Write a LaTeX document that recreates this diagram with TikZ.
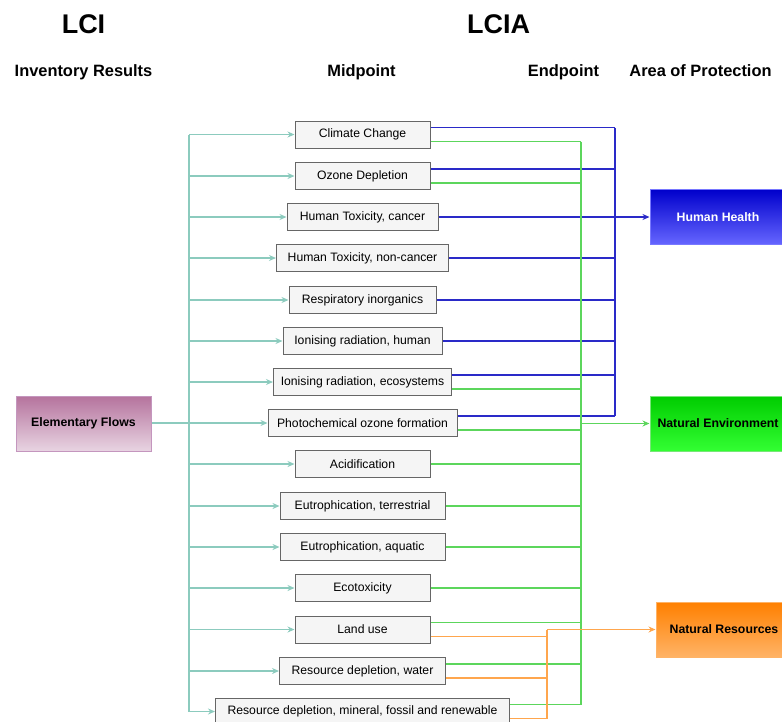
\documentclass[tikz,border=0pt]{standalone}
\usepackage{fontspec}
\setmainfont{Liberation Sans}
\usetikzlibrary{arrows.meta}

\definecolor{boxfill}{HTML}{F5F5F5}
\definecolor{boxline}{HTML}{666666}
\definecolor{feedc}{HTML}{8CCBBE}
\definecolor{hhline}{HTML}{2A2AC8}
\definecolor{neline}{HTML}{5CD65C}
\definecolor{nrline}{HTML}{FFA64D}

\begin{document}
\begin{tikzpicture}[x=1pt,y=-1pt,
  mid/.style={draw=boxline, fill=boxfill, line width=1pt, minimum height=27pt,
    inner sep=0pt, font=\fontsize{12.2}{14}\selectfont},
  aop/.style={minimum height=55pt, inner sep=0pt, line width=1pt,
    font=\bfseries\fontsize{12.3}{14}\selectfont},
  title/.style={font=\bfseries\fontsize{27}{30}\selectfont, inner sep=0pt},
  head/.style={font=\bfseries\fontsize{16.4}{19}\selectfont, inner sep=0pt, anchor=base},
  tip/.style={-{Stealth[length=7pt,width=6pt]}},
  feed/.style={draw=feedc, line width=1.2pt},
  hh/.style={draw=hhline, line width=1.2pt},
  ne/.style={draw=neline, line width=1.2pt},
  nr/.style={draw=nrline, line width=1.2pt}]
\useasboundingbox (0,0) rectangle (782,721);

% headings
\node[title] (lci) at (83.5,24) {LCI};
\node[title] (lcia) at (498.5,24) {LCIA};
\node[head] (hinv) at (83.5,76) {Inventory Results};
\node[head] (hmid) at (361.5,76) {Midpoint};
\node[head] (hend) at (563.5,76) {Endpoint};
\node[head] (haop) at (700.5,76) {Area of Protection};

% inventory
\node[draw={rgb,255:red,196;green,150;blue,190}, line width=1pt,
  top color={rgb,255:red,181;green,115;blue,157},
  bottom color={rgb,255:red,232;green,212;blue,226},
  minimum width=135pt, minimum height=55pt, inner sep=0pt,
  font=\bfseries\fontsize{12.3}{14}\selectfont] (ef) at (83.5,423.5) {Elementary Flows};

% midpoint categories
\node[mid, minimum width=135pt] (cc)  at (362.5,134.5) {Climate Change};
\node[mid, minimum width=135pt] (od)  at (362.5,176)   {Ozone Depletion};
\node[mid, minimum width=151pt] (htc) at (362.5,217)   {Human Toxicity, cancer};
\node[mid, minimum width=172pt] (htn) at (362.5,258)   {Human Toxicity, non-cancer};
\node[mid, minimum width=147pt] (ri)  at (362.5,300)   {Respiratory inorganics};
\node[mid, minimum width=159pt] (irh) at (362.5,341)   {Ionising radiation, human};
\node[mid, minimum width=178pt] (ire) at (362.5,382)   {Ionising radiation, ecosystems};
\node[mid, minimum width=189pt] (pof) at (362.5,423)   {Photochemical ozone formation};
\node[mid, minimum width=135pt] (ac)  at (362.5,464)   {Acidification};
\node[mid, minimum width=165pt] (eut) at (362.5,506)   {Eutrophication, terrestrial};
\node[mid, minimum width=165pt] (eua) at (362.5,547)   {Eutrophication, aquatic};
\node[mid, minimum width=135pt] (eco) at (362.5,588)   {Ecotoxicity};
\node[mid, minimum width=135pt] (lu)  at (362.5,629.5) {Land use};
\node[mid, minimum width=166pt] (rdw) at (362.5,671)   {Resource depletion, water};
\node[mid, minimum width=294pt] (rdm) at (362.5,711.5) {Resource depletion, mineral, fossil and renewable};

% areas of protection
\node[aop, draw={rgb,255:red,120;green,120;blue,255}, text=white,
  top color={rgb,255:red,0;green,0;blue,204}, bottom color={rgb,255:red,102;green,102;blue,255},
  minimum width=136pt] (hhb) at (718,217) {Human Health};
\node[aop, draw={rgb,255:red,120;green,230;blue,120},
  top color={rgb,255:red,0;green,204;blue,0}, bottom color={rgb,255:red,51;green,255;blue,51},
  minimum width=136pt] (neb) at (718,423.5) {Natural Environment};
\node[aop, draw={rgb,255:red,255;green,179;blue,102},
  top color={rgb,255:red,255;green,128;blue,0}, bottom color={rgb,255:red,255;green,179;blue,102},
  minimum width=136pt] (nrb) at (724,629.5) {Natural Resources};

% feed bus from the inventory
\coordinate (fTop) at (189,134.5);
\coordinate (fBot) at (189,711.5);
\draw[feed] (fTop) -- (fBot);
\foreach \n in {cc,od,htc,htn,ri,irh,ire,ac,eut,eua,eco,lu,rdw,rdm}
  \draw[feed,tip] (\n.west -| fTop) -- (\n.west);
\draw[feed,tip] (ef.east |- pof.west) -- (pof.west);

% human health bus
\coordinate (bTop) at (615,127.5);
\coordinate (bBot) at (615,416);
\draw[hh] (bTop) -- (bBot);
\foreach \n in {cc,od,ire,pof}
  \draw[hh] ([yshift=7pt]\n.east) -- ([yshift=7pt]\n.east -| bTop);
\foreach \n in {htn,ri,irh}
  \draw[hh] (\n.east) -- (\n.east -| bTop);
\draw[hh,tip] (htc.east) -- (hhb.west);

% natural environment bus
\coordinate (gTop) at (581,141.5);
\coordinate (gBot) at (581,704.5);
\draw[ne] (gTop) -- (gBot);
\foreach \n in {cc,od,ire,pof}
  \draw[ne] ([yshift=-7pt]\n.east) -- ([yshift=-7pt]\n.east -| gTop);
\foreach \n in {lu,rdw,rdm}
  \draw[ne] ([yshift=7pt]\n.east) -- ([yshift=7pt]\n.east -| gTop);
\foreach \n in {ac,eut,eua,eco}
  \draw[ne] (\n.east) -- (\n.east -| gTop);
\draw[ne,tip] (neb.west -| gTop) -- (neb.west);

% natural resources bus
\coordinate (oTop) at (547,629.5);
\coordinate (oBot) at (547,718.5);
\draw[nr] (oTop) -- (oBot);
\foreach \n in {lu,rdw,rdm}
  \draw[nr] ([yshift=-7pt]\n.east) -- ([yshift=-7pt]\n.east -| oTop);
\draw[nr,tip] (oTop) -- (nrb.west);
\end{tikzpicture}
\end{document}
